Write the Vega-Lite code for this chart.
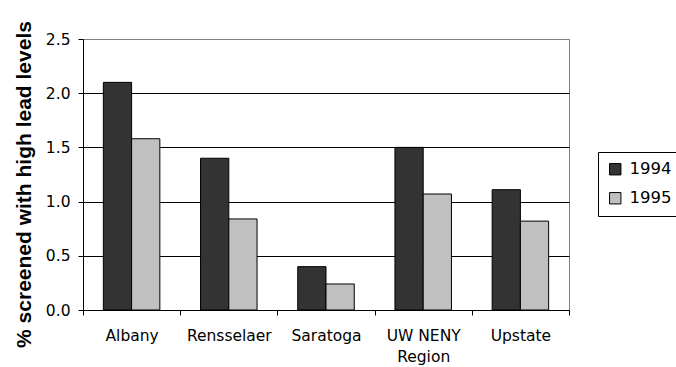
{
  "$schema": "https://vega.github.io/schema/vega-lite/v6.json",
  "width": 486,
  "height": 271,
  "autosize": "none",
  "padding": {"left": 83, "top": 39, "right": 107, "bottom": 57},
  "background": "white",
  "data": {
    "values": [
      {"region": "Albany", "year": "1994", "pct": 2.1},
      {"region": "Albany", "year": "1995", "pct": 1.58},
      {"region": "Rensselaer", "year": "1994", "pct": 1.4},
      {"region": "Rensselaer", "year": "1995", "pct": 0.84},
      {"region": "Saratoga", "year": "1994", "pct": 0.4},
      {"region": "Saratoga", "year": "1995", "pct": 0.24},
      {"region": "UW NENY Region", "year": "1994", "pct": 1.5},
      {"region": "UW NENY Region", "year": "1995", "pct": 1.07},
      {"region": "Upstate", "year": "1994", "pct": 1.11},
      {"region": "Upstate", "year": "1995", "pct": 0.82}
    ]
  },
  "mark": {"type": "bar", "stroke": "black", "strokeWidth": 1},
  "encoding": {
    "x": {
      "field": "region",
      "type": "nominal",
      "sort": null,
      "scale": {"paddingInner": 0, "paddingOuter": 0},
      "axis": {
        "title": null,
        "labelAngle": 0,
        "labelFont": "DejaVu Sans",
        "labelFontSize": 15.5,
        "labelColor": "black",
        "labelPadding": 13,
        "labelLineHeight": 21,
        "labelExpr": "datum.label == 'UW NENY Region' ? ['UW NENY', 'Region'] : datum.label",
        "tickBand": "extent",
        "tickSize": 5,
        "tickColor": "black",
        "domainColor": "black",
        "grid": false
      }
    },
    "xOffset": {
      "field": "year",
      "type": "nominal",
      "scale": {"paddingInner": 0, "paddingOuter": 0.72}
    },
    "y": {
      "field": "pct",
      "type": "quantitative",
      "scale": {"domain": [0, 2.5], "nice": false},
      "axis": {
        "title": "% screened with high lead levels",
        "titleFont": "Liberation Sans",
        "titleFontSize": 21,
        "titleFontWeight": "bold",
        "titleColor": "black",
        "titleX": -59,
        "titleY": 145,
        "titleBaseline": "middle",
        "values": [0, 0.5, 1, 1.5, 2, 2.5],
        "format": ".1f",
        "labelFont": "DejaVu Sans",
        "labelFontSize": 15.5,
        "labelColor": "black",
        "labelPadding": 8,
        "tickSize": 5,
        "tickColor": "black",
        "domainColor": "black",
        "gridColor": {"condition": {"test": "datum.value == 2.5", "value": "#808080"}, "value": "black"},
        "gridWidth": 1
      }
    },
    "color": {
      "field": "year",
      "type": "nominal",
      "scale": {"domain": ["1994", "1995"], "range": ["#333333", "#c0c0c0"]},
      "legend": {
        "title": null,
        "orient": "none",
        "legendX": 515,
        "legendY": 113,
        "strokeColor": "black",
        "padding": 9,
        "symbolType": "square",
        "symbolSize": 130,
        "symbolStrokeColor": "black",
        "symbolStrokeWidth": 1,
        "labelFont": "DejaVu Sans",
        "labelFontSize": 16.5,
        "labelColor": "black",
        "labelOffset": 6,
        "rowPadding": 12
      }
    }
  },
  "config": {
    "view": {"stroke": "#808080", "strokeWidth": 1}
  }
}
